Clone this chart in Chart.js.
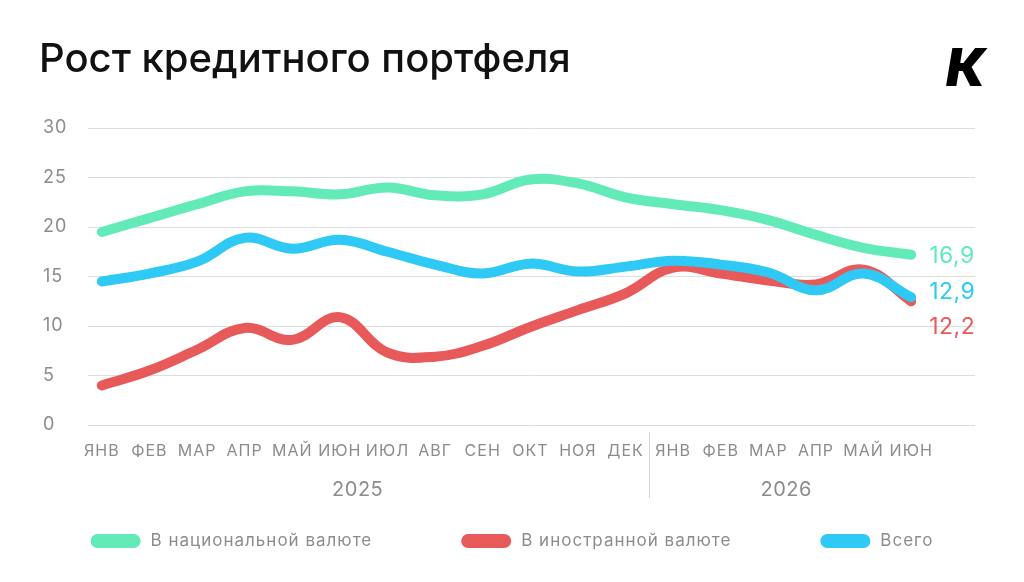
<!DOCTYPE html>
<html lang="ru">
<head>
<meta charset="utf-8">
<title>Рост кредитного портфеля</title>
<script src="https://cdn.jsdelivr.net/npm/chart.js@4.4.1/dist/chart.umd.min.js"></script>
<style>
    html, body { margin: 0; padding: 0; background: #ffffff; }
    #chartBox { width: 1024px; height: 582px; }
</style>
</head>
<body>
<div id="chartBox"><canvas id="creditPortfolioChart"></canvas></div>
<script>
// months on the x axis, grouped by year
const monthLabels = ["ЯНВ", "ФЕВ", "МАР", "АПР", "МАЙ", "ИЮН", "ИЮЛ", "АВГ", "СЕН", "ОКТ", "НОЯ", "ДЕК",
    "ЯНВ", "ФЕВ", "МАР", "АПР", "МАЙ", "ИЮН"];
const yearLabels = ["2025", "2026"];
const monthsPerYear = [12, 6];

// growth of the loan portfolio, %
const nationalCurrency = [19.5, 20.9, 22.3, 23.6, 23.6, 23.3, 24.0, 23.2, 23.3, 24.8, 24.4, 23.0,
    22.3, 21.7, 20.7, 19.2, 17.9, 17.2];
const foreignCurrency = [4.0, 5.5, 7.6, 9.8, 8.6, 10.9, 7.3, 6.9, 8.0, 9.9, 11.6, 13.3,
    15.9, 15.3, 14.6, 14.2, 15.7, 12.5];
const totalPortfolio = [14.5, 15.3, 16.5, 18.9, 17.8, 18.7, 17.5, 16.2, 15.3, 16.3, 15.5, 16.0,
    16.6, 16.2, 15.4, 13.6, 15.3, 12.9];

const seriesNames = ["В национальной валюте", "В иностранной валюте", "Всего"];
const seriesColors = ["#62ebb8", "#e85a5a", "#2ec9f5"];
const endValueLabels = ["16,9", "12,2", "12,9"];

const chartTitle = "Рост кредитного портфеля";
const chartId = "creditPortfolioChart";
const mainFont = "Inter, 'Noto Sans', sans-serif";
const greyText = "#8c8c8c";

function toPoints(values) {
    return values.map((v, i) => ({ x: i, y: v }));
}

function buildDataSets() {
    const seriesValues = [nationalCurrency, foreignCurrency, totalPortfolio];
    // blue over red, as in the original
    const drawOrder = [2, 1, 0];
    return seriesValues.map((values, i) => ({
        label: seriesNames[i],
        data: toPoints(values),
        borderColor: seriesColors[i],
        backgroundColor: seriesColors[i],
        borderWidth: 10,
        borderCapStyle: "round",
        borderJoinStyle: "round",
        pointRadius: 0,
        pointHoverRadius: 0,
        tension: 0.4,
        fill: false,
        order: drawOrder[i]
    }));
}

// slightly wider lettering for all texts of the chart
const letterSpacingPlugin = {
    id: "letterSpacing",
    beforeDraw(chart) {
        chart.ctx.letterSpacing = "1px";
    }
};

// value labels right after the last point of each line
const endLabelsPlugin = {
    id: "endLabels",
    afterDatasetsDraw(chart) {
        const ctx = chart.ctx;
        const shiftY = [1, 26, -5];
        ctx.save();
        ctx.font = "23px " + mainFont;
        ctx.letterSpacing = "0.5px";
        ctx.textAlign = "left";
        ctx.textBaseline = "middle";
        chart.data.datasets.forEach((ds, i) => {
            const meta = chart.getDatasetMeta(i);
            const last = meta.data[meta.data.length - 1];
            ctx.fillStyle = seriesColors[i];
            ctx.fillText(endValueLabels[i], last.x + 18, last.y + shiftY[i]);
        });
        ctx.restore();
    }
};

// year captions and the separator between years
const yearAxisPlugin = {
    id: "yearAxis",
    afterDraw(chart) {
        const ctx = chart.ctx;
        const xScale = chart.scales.x;
        const bottom = chart.chartArea.bottom;
        let start = 0;
        ctx.save();
        ctx.font = "20px " + mainFont;
        ctx.letterSpacing = "0.5px";
        ctx.fillStyle = greyText;
        ctx.textAlign = "center";
        ctx.textBaseline = "middle";
        yearLabels.forEach((year, k) => {
            const end = start + monthsPerYear[k] - 1;
            ctx.fillText(year, xScale.getPixelForValue((start + end) / 2) - 6, bottom + 65);
            if (k > 0) {
                const sx = Math.round(xScale.getPixelForValue(start - 0.5)) + 0.5;
                ctx.strokeStyle = "#d6d6d6";
                ctx.lineWidth = 1;
                ctx.beginPath();
                ctx.moveTo(sx, bottom + 7);
                ctx.lineTo(sx, bottom + 73);
                ctx.stroke();
            }
            start = end + 1;
        });
        ctx.restore();
    }
};

// legend with pill shaped swatches, spread over the width
const pillLegendPlugin = {
    id: "pillLegend",
    afterDraw(chart) {
        const ctx = chart.ctx;
        const pillW = 50, pillH = 14, textGap = 10, itemGap = 89;
        const y = chart.height - 41;
        ctx.save();
        ctx.font = "17px " + mainFont;
        ctx.letterSpacing = "1px";
        const widths = seriesNames.map(name => pillW + textGap + ctx.measureText(name).width);
        const total = widths.reduce((a, b) => a + b, 0) + itemGap * (widths.length - 1);
        let x = (chart.width - total) / 2;
        ctx.textAlign = "left";
        ctx.textBaseline = "middle";
        seriesNames.forEach((name, i) => {
            ctx.fillStyle = seriesColors[i];
            ctx.beginPath();
            ctx.roundRect(x, y - pillH / 2, pillW, pillH, pillH / 2);
            ctx.fill();
            ctx.fillStyle = greyText;
            ctx.fillText(name, x + pillW + textGap, y);
            x += widths[i] + itemGap;
        });
        ctx.restore();
    }
};

// title on the left and brand letter in the top right corner
const headerPlugin = {
    id: "header",
    afterDraw(chart) {
        const ctx = chart.ctx;
        ctx.save();
        ctx.textAlign = "left";
        ctx.textBaseline = "alphabetic";
        ctx.letterSpacing = "0px";
        ctx.fillStyle = "#111111";
        ctx.font = "500 40px " + mainFont;
        ctx.fillText(chartTitle, 39, 72);
        ctx.fillStyle = "#000000";
        ctx.font = "italic 900 52px " + mainFont;
        ctx.fillText("К", 946, 86);
        ctx.restore();
    }
};

function generateChartOnPage() {
    const chartData = {
        datasets: buildDataSets()
    };

    const chartOptions = {
        responsive: false,
        animation: false,
        layout: {
            padding: { left: 43, right: 49, top: 128, bottom: 0 }
        },
        plugins: {
            legend: { display: false },
            tooltip: { enabled: false },
            title: { display: false }
        },
        scales: {
            x: {
                type: "linear",
                min: -0.29,
                max: 18.34,
                grid: { display: false },
                border: { display: false },
                afterBuildTicks: axis => {
                    axis.ticks = monthLabels.map((_, i) => ({ value: i }));
                },
                afterFit: axis => {
                    axis.height = 157;
                },
                ticks: {
                    autoSkip: false,
                    maxRotation: 0,
                    padding: 9,
                    color: greyText,
                    font: { family: mainFont, size: 16 },
                    callback: value => monthLabels[value]
                }
            },
            y: {
                min: 0,
                max: 30,
                grid: { color: "#dedede", lineWidth: 1, drawTicks: false },
                border: { display: false },
                afterFit: axis => {
                    axis.width = 45;
                },
                ticks: {
                    stepSize: 5,
                    crossAlign: "far",
                    padding: 0,
                    color: greyText,
                    font: { family: mainFont, size: 18 }
                }
            }
        }
    };

    const canvas = document.getElementById(chartId);
    canvas.width = 1024;
    canvas.height = 582;
    new Chart(canvas.getContext("2d"), {
        type: "line",
        data: chartData,
        options: chartOptions,
        plugins: [letterSpacingPlugin, endLabelsPlugin, yearAxisPlugin, pillLegendPlugin, headerPlugin]
    });
}

generateChartOnPage();
</script>
</body>
</html>
